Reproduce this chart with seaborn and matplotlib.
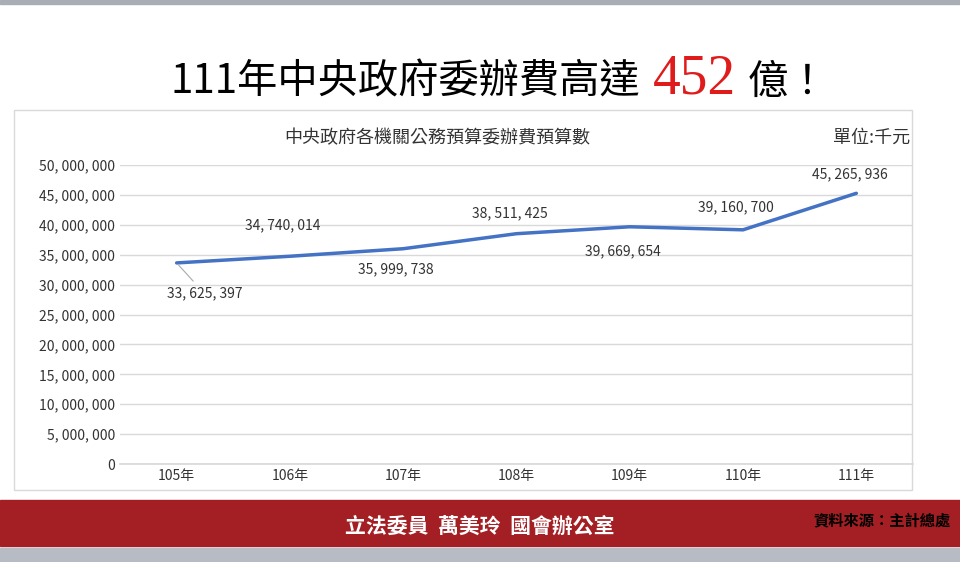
import matplotlib
matplotlib.use("Agg")
import matplotlib.pyplot as plt
import seaborn as sns
import pandas as pd
from matplotlib.patches import Rectangle

years = ["105年", "106年", "107年", "108年", "109年", "110年", "111年"]
values = [33625397, 34740014, 35999738, 38511425, 39669654, 39160700, 45265936]
yticks = list(range(0, 50000001, 5000000))
# label offsets in points (dx, dy)
offsets = [(20, -22), (-5, 22), (-5, -15), (-5, 15), (-5, -18), (-5, 16), (-5, 14)]

sns.set_theme(style="white")
plt.rcParams['font.family'] = ['Noto Sans CJK TC', 'DejaVu Sans']

fig = plt.figure(figsize=(9.6, 5.62), dpi=100)
fig.patch.set_facecolor("white")

# decorations
fig.add_artist(Rectangle((0, 1 - 4/562), 1, 4/562, transform=fig.transFigure, color="#a9adb5"))
fig.add_artist(Rectangle((14/960, 1 - 490/562), 898/960, 380/562, transform=fig.transFigure,
                         fill=False, edgecolor="#d9d9d9", lw=1))
fig.add_artist(Rectangle((0, 1 - 546/562), 1, 46/562, transform=fig.transFigure, color="#a31f24"))
fig.add_artist(Rectangle((0, 0), 1, 14/562, transform=fig.transFigure, color="#b7bcc4"))

fig.text(640/960, 1 - 82/562, "111年中央政府委辦費高達", ha="right", va="center", fontsize=29, color="black")
fig.text(694/960, 1 - 80/562, "452", ha="center", va="center", fontsize=40, color="#e01b1b",
         family="Liberation Serif")
fig.text(748/960, 1 - 82/562, "億！", ha="left", va="center", fontsize=29, color="black")

fig.text(0.455, 1 - 138/562, "中央政府各機關公務預算委辦費預算數", ha="center", va="center", fontsize=13, color="#333333")
fig.text(0.948, 1 - 138/562, "單位:千元", ha="right", va="center", fontsize=13, color="#333333")

fig.text(0.5, 1 - 526/562, "立法委員  萬美玲  國會辦公室", ha="center", va="center", fontsize=15,
         color="white", fontweight="bold")
fig.text(0.99, 1 - 520/562, "資料來源：主計總處", ha="right", va="center", fontsize=11,
         color="black", fontweight="bold")

ax = fig.add_axes([0.125, 1 - 464/562, 0.826, 299/562])
df = pd.DataFrame({"year": years, "value": values})
sns.lineplot(data=df, x="year", y="value", ax=ax, color="#4472c4", lw=2.5, sort=False)
ax.set_xlim(-0.5, len(years) - 0.5)
ax.set_ylim(0, 50000000)
ax.set_yticks(yticks)
ax.set_yticklabels([f"{v:,}".replace(",", ", ") for v in yticks], fontsize=10, color="#333333")
ax.tick_params(axis="x", labelsize=10, colors="#333333", length=0)
ax.tick_params(axis="y", length=0)
ax.set_xlabel("")
ax.set_ylabel("")
ax.grid(axis="y", color="#d9d9d9", lw=1)
for s in ["top", "right", "left"]:
    ax.spines[s].set_visible(False)
ax.spines["bottom"].set_color("#d9d9d9")

for i, (v, off) in enumerate(zip(values, offsets)):
    kw = {}
    if i == 0:
        kw = dict(arrowprops=dict(arrowstyle="-", color="#aaaaaa", lw=0.8))
    ax.annotate(f"{v:,}".replace(",", ", "), (i, v), xytext=off, textcoords="offset points",
                ha="center", va="center", fontsize=10, color="#333333", **kw)

fig.savefig("out.png", dpi=100)
